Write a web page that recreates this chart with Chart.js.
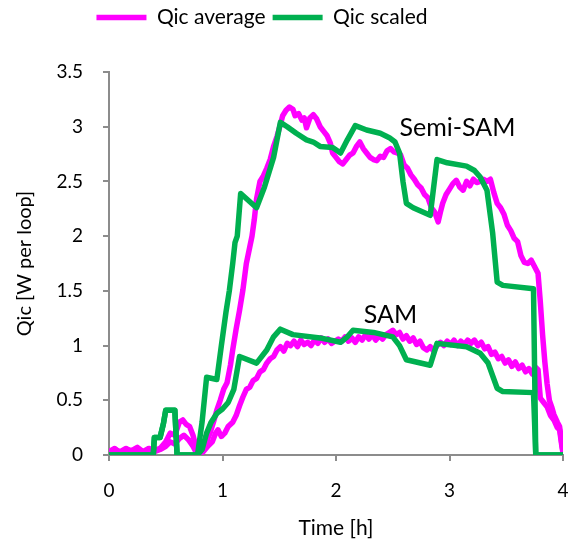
<!DOCTYPE html>
<html>
<head>
<meta charset="utf-8">
<script src="https://cdn.jsdelivr.net/npm/chart.js@4"></script>
<style>
  html, body { margin: 0; padding: 0; background: #fff; }
  #wrap { width: 576px; height: 546px; position: relative; }
</style>
</head>
<body>
<div id="wrap"><canvas id="qicChart"></canvas></div>
<script>
// [time (h), Qic (W per loop)]
const semiSamAverage = [
  [0,0.03],[0.05,0.06],[0.1,0.02],[0.15,0.05],[0.2,0.04],[0.25,0.07],[0.3,0.03],[0.35,0.06],[0.4,0.04],
  [0.45,0.06],[0.5,0.12],[0.54,0.2],[0.58,0.18],[0.62,0.3],[0.65,0.32],[0.68,0.28],[0.71,0.26],[0.74,0.18],
  [0.76,0.1],[0.78,0.01],[0.82,0.04],[0.86,0.12],[0.89,0.2],[0.92,0.3],[0.95,0.41],[0.98,0.5],[1.01,0.6],
  [1.04,0.66],[1.07,0.82],[1.09,0.96],[1.12,1.15],[1.15,1.32],[1.18,1.51],[1.21,1.75],[1.24,1.9],[1.26,2.0],
  [1.28,2.15],[1.3,2.34],[1.33,2.5],[1.36,2.55],[1.39,2.62],[1.42,2.7],[1.45,2.82],[1.48,2.91],[1.51,3.02],
  [1.53,3.1],[1.56,3.15],[1.59,3.18],[1.62,3.16],[1.64,3.1],[1.67,3.12],[1.7,3.06],[1.72,3.08],[1.74,2.99],
  [1.77,3.08],[1.8,3.11],[1.83,3.07],[1.86,3.0],[1.89,2.96],[1.92,2.92],[1.95,2.85],[1.97,2.76],[2.0,2.72],
  [2.03,2.68],[2.06,2.66],[2.09,2.7],[2.12,2.74],[2.15,2.76],[2.18,2.82],[2.21,2.86],[2.24,2.8],[2.27,2.76],
  [2.3,2.72],[2.33,2.7],[2.36,2.69],[2.39,2.73],[2.42,2.72],[2.45,2.78],[2.48,2.8],[2.51,2.77],[2.54,2.76],
  [2.57,2.74],[2.6,2.65],[2.63,2.62],[2.66,2.56],[2.69,2.52],[2.72,2.47],[2.75,2.44],[2.78,2.38],[2.81,2.35],
  [2.84,2.26],[2.87,2.22],[2.9,2.13],[2.92,2.22],[2.94,2.3],[2.97,2.38],[3.0,2.43],[3.03,2.48],[3.06,2.51],
  [3.09,2.45],[3.12,2.42],[3.15,2.5],[3.18,2.46],[3.21,2.52],[3.24,2.49],[3.27,2.5],[3.3,2.52],[3.33,2.5],
  [3.36,2.52],[3.39,2.4],[3.42,2.3],[3.45,2.26],[3.48,2.2],[3.51,2.1],[3.54,2.05],[3.57,1.98],[3.6,1.95],
  [3.63,1.82],[3.66,1.76],[3.69,1.75],[3.72,1.78],[3.75,1.72],[3.78,1.66],[3.8,1.4],[3.82,1.1],[3.84,0.85],
  [3.86,0.65],[3.88,0.5],[3.9,0.44],[3.92,0.37],[3.95,0.3],[3.97,0.26],[3.99,0.1],[4.0,0.03]
];
const samAverage = [
  [0,0.02],[0.05,0.05],[0.1,0.03],[0.15,0.06],[0.2,0.03],[0.25,0.05],[0.3,0.02],[0.35,0.05],[0.4,0.03],
  [0.45,0.05],[0.5,0.08],[0.54,0.12],[0.58,0.1],[0.62,0.15],[0.66,0.18],[0.7,0.14],[0.74,0.08],[0.77,0.02],
  [0.8,0.01],[0.83,0.03],[0.87,0.08],[0.91,0.12],[0.94,0.2],[0.96,0.23],[0.99,0.17],[1.02,0.2],[1.05,0.26],
  [1.09,0.3],[1.12,0.36],[1.15,0.45],[1.18,0.53],[1.21,0.6],[1.24,0.62],[1.27,0.68],[1.3,0.7],[1.33,0.76],
  [1.36,0.78],[1.39,0.84],[1.42,0.88],[1.45,0.9],[1.48,0.96],[1.51,0.99],[1.54,0.95],[1.57,1.02],[1.6,1.0],
  [1.63,1.04],[1.66,0.99],[1.69,1.05],[1.72,1.01],[1.75,1.03],[1.78,1.0],[1.81,1.05],[1.84,1.02],[1.87,1.07],
  [1.9,1.03],[1.93,1.06],[1.96,1.02],[1.99,1.04],[2.02,1.06],[2.05,1.04],[2.08,1.08],[2.11,1.04],[2.14,1.07],
  [2.17,1.03],[2.2,1.08],[2.23,1.05],[2.26,1.1],[2.29,1.06],[2.32,1.1],[2.35,1.05],[2.38,1.09],[2.41,1.06],
  [2.44,1.1],[2.47,1.12],[2.5,1.14],[2.53,1.1],[2.56,1.12],[2.59,1.06],[2.62,1.09],[2.65,1.04],[2.68,1.07],
  [2.71,1.01],[2.74,1.04],[2.77,0.98],[2.8,0.96],[2.83,0.99],[2.86,0.95],[2.89,1.0],[2.92,1.03],[2.95,1.0],
  [2.98,1.04],[3.01,1.01],[3.04,1.05],[3.07,1.0],[3.1,1.04],[3.13,1.01],[3.16,1.05],[3.19,1.02],[3.22,1.05],
  [3.25,1.0],[3.28,1.03],[3.31,0.97],[3.34,0.99],[3.37,0.92],[3.4,0.94],[3.43,0.88],[3.46,0.9],[3.49,0.84],
  [3.52,0.87],[3.55,0.81],[3.58,0.85],[3.61,0.79],[3.64,0.82],[3.67,0.76],[3.7,0.79],[3.73,0.74],[3.76,0.8],
  [3.78,0.78],[3.8,0.52],[3.83,0.48],[3.86,0.44],[3.89,0.36],[3.92,0.32],[3.95,0.25],[3.97,0.23],[3.99,0.08],
  [4.0,0.02]
];
const semiSamScaled = [
  [0,0],[0.39,0],[0.4,0.16],[0.45,0.16],[0.48,0.29],[0.5,0.41],[0.58,0.41],[0.6,0],[0.78,0],[0.82,0.3],
  [0.86,0.71],[0.95,0.69],[0.99,1.0],[1.03,1.3],[1.06,1.5],[1.09,1.75],[1.11,1.94],[1.13,2.0],[1.16,2.39],
  [1.3,2.26],[1.37,2.45],[1.45,2.72],[1.51,3.04],[1.57,3.0],[1.65,2.94],[1.74,2.88],[1.8,2.86],[1.86,2.82],
  [1.97,2.81],[2.04,2.76],[2.1,2.88],[2.17,3.01],[2.27,2.97],[2.39,2.94],[2.47,2.9],[2.52,2.86],[2.56,2.76],
  [2.59,2.5],[2.62,2.3],[2.68,2.26],[2.83,2.19],[2.89,2.7],[2.98,2.67],[3.15,2.64],[3.22,2.6],[3.27,2.54],
  [3.33,2.42],[3.38,2.03],[3.42,1.58],[3.47,1.55],[3.74,1.52],[3.76,0],[4.0,0]
];
const samScaled = [
  [0,0],[0.39,0],[0.4,0.16],[0.45,0.16],[0.48,0.29],[0.5,0.41],[0.58,0.41],[0.6,0],[0.78,0],[0.82,0.05],
  [0.86,0.2],[0.9,0.3],[0.95,0.38],[1.0,0.42],[1.05,0.48],[1.1,0.6],[1.15,0.9],[1.3,0.84],[1.39,0.96],
  [1.45,1.08],[1.51,1.15],[1.62,1.1],[1.86,1.07],[2.04,1.03],[2.1,1.08],[2.15,1.14],[2.33,1.12],[2.5,1.08],
  [2.56,1.0],[2.62,0.87],[2.83,0.82],[2.89,1.02],[3.15,0.99],[3.27,0.93],[3.34,0.84],[3.42,0.61],[3.47,0.58],
  [3.74,0.57],[3.76,0],[4.0,0]
];
const curveLabels = [
  { text: "Semi-SAM", t: 3.07, q: 2.99 },
  { text: "SAM", t: 2.48, q: 1.28 }
];

const MAGENTA = "#ff00ff";
const GREEN = "#00b050";
const AXIS = "#8c8c8c";

Chart.defaults.font.family = "Lato, 'Open Sans', sans-serif";
Chart.defaults.color = "#000";

const toPoints = (rows) => rows.map(([t, q]) => ({ x: t, y: q }));

function lineSet(label, rows, color, order) {
  return {
    label: label,
    data: toPoints(rows),
    borderColor: color,
    backgroundColor: color,
    borderWidth: 5.5,
    borderCapStyle: "round",
    borderJoinStyle: "round",
    pointRadius: 0,
    tension: 0,
    order: order,
  };
}

// text next to the curve groups
const curveText = {
  id: "curveText",
  afterDatasetsDraw(chart) {
    const { ctx, scales } = chart;
    ctx.save();
    ctx.font = "25px Lato, 'Open Sans', sans-serif";
    ctx.fillStyle = "#000";
    ctx.textAlign = "center";
    ctx.textBaseline = "middle";
    curveLabels.forEach((l) => {
      ctx.fillText(l.text, scales.x.getPixelForValue(l.t), scales.y.getPixelForValue(l.q));
    });
    ctx.restore();
  },
};

// legend in the reference sits at the very top, a bit left of the canvas centre
const legendShift = {
  id: "legendShift",
  afterLayout(chart) {
    const lg = chart.legend;
    const h = lg.bottom - lg.top;
    lg.top = 0;
    lg.bottom = h;
    lg.left -= 26;
    lg.right -= 26;
  },
};

new Chart(document.getElementById("qicChart"), {
  type: "line",
  data: {
    datasets: [
      lineSet("Qic average", semiSamAverage, MAGENTA, 2),
      lineSet("Qic average (SAM)", samAverage, MAGENTA, 2),
      lineSet("Qic scaled", semiSamScaled, GREEN, 1),
      lineSet("Qic scaled (SAM)", samScaled, GREEN, 1),
    ],
  },
  plugins: [curveText, legendShift],
  options: {
    responsive: true,
    maintainAspectRatio: false,
    animation: false,
    layout: { padding: 0 },
    plugins: {
      tooltip: { enabled: false },
      legend: {
        position: "top",
        labels: {
          filter: (item) => item.datasetIndex === 0 || item.datasetIndex === 2,
          sort: (a, b) => a.datasetIndex - b.datasetIndex,
          usePointStyle: true,
          pointStyle: "line",
          pointStyleWidth: 50,
          padding: 7,
          font: { size: 21 },
        },
      },
    },
    scales: {
      x: {
        type: "linear",
        min: 0,
        max: 4,
        ticks: { stepSize: 1, padding: 18, font: { size: 19 } },
        grid: { drawOnChartArea: false, tickLength: 6, color: AXIS, lineWidth: 2 },
        border: { color: AXIS, width: 2 },
        title: { display: true, text: "Time [h]", font: { size: 21 }, padding: { top: 4, bottom: 5 } },
        afterFit: (scale) => {
          scale.height = 91;
          scale.paddingRight = 13;
        },
      },
      y: {
        min: 0,
        max: 3.5,
        ticks: { stepSize: 0.5, padding: 20, font: { size: 19 }, callback: (v) => String(v) },
        grid: { drawOnChartArea: false, tickLength: 6, color: AXIS, lineWidth: 2 },
        border: { color: AXIS, width: 2 },
        title: { display: true, text: "Qic [W per loop]", font: { size: 20 }, padding: { top: 13, bottom: 0 } },
        afterFit: (scale) => {
          scale.width = 109;
          scale.paddingTop = 72;
        },
      },
    },
  },
});
</script>
</body>
</html>
